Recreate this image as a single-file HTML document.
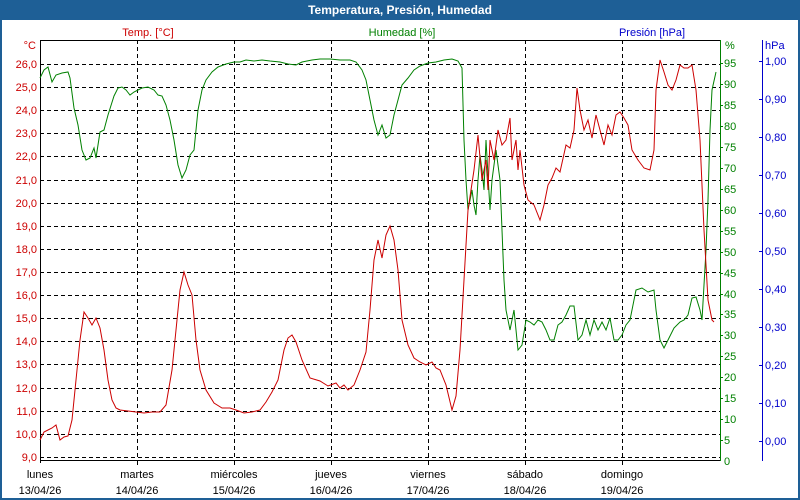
<!DOCTYPE html>
<html><head><meta charset="utf-8"><style>
html,body{margin:0;padding:0;background:#fff;}
svg{display:block;font-family:"Liberation Sans","DejaVu Sans",sans-serif;}
</style></head><body>
<svg width="800" height="500" viewBox="0 0 800 500" xmlns="http://www.w3.org/2000/svg">
<rect x="0" y="0" width="800" height="500" fill="#1e5f96"/>
<rect x="2" y="20" width="796" height="478" fill="#fff"/>
<text x="400" y="14" fill="#fff" font-size="12" font-weight="bold" text-anchor="middle">Temperatura, Presión, Humedad</text>
<text x="148" y="36" fill="#cc0000" font-size="11" text-anchor="middle">Temp. [°C]</text>
<text x="402" y="36" fill="#008000" font-size="11" text-anchor="middle">Humedad [%]</text>
<text x="652" y="36" fill="#0000cc" font-size="11" text-anchor="middle">Presión [hPa]</text>
<g stroke="#000" stroke-width="1" stroke-dasharray="4,3" fill="none">
<path d="M40 64.5H720M40 87.5H720M40 110.5H720M40 133.5H720M40 156.5H720M40 180.5H720M40 203.5H720M40 226.5H720M40 249.5H720M40 272.5H720M40 295.5H720M40 318.5H720M40 341.5H720M40 364.5H720M40 388.5H720M40 411.5H720M40 434.5H720M40 457.5H720"/>
<path d="M137.5 40V460M234.5 40V460M331.5 40V460M428.5 40V460M525.5 40V460M622.5 40V460"/>
</g>
<path d="M40.5 40V463M40 460.5H720M40 40.5H720" stroke="#000" fill="none"/>
<path d="M720.5 40V461" stroke="#008000" fill="none"/>
<path d="M762.5 40V461" stroke="#0000cc" fill="none"/>
<g stroke="#000"><path d="M137.5 460V465M234.5 460V465M331.5 460V465M428.5 460V465M525.5 460V465M622.5 460V465"/></g>
<g fill="#cc0000" font-size="11" text-anchor="end">
<text x="36" y="49">°C</text>
<text x="37" y="68">26,0</text><text x="37" y="91">25,0</text><text x="37" y="114">24,0</text><text x="37" y="137">23,0</text><text x="37" y="160">22,0</text><text x="37" y="184">21,0</text><text x="37" y="207">20,0</text><text x="37" y="230">19,0</text><text x="37" y="253">18,0</text><text x="37" y="276">17,0</text><text x="37" y="299">16,0</text><text x="37" y="322">15,0</text><text x="37" y="345">14,0</text><text x="37" y="368">13,0</text><text x="37" y="392">12,0</text><text x="37" y="415">11,0</text><text x="37" y="438">10,0</text><text x="37" y="461">9,0</text>
</g>
<g fill="#008000" font-size="11">
<text x="725" y="49">%</text>
<text x="724" y="67">95</text><text x="724" y="88">90</text><text x="724" y="109">85</text><text x="724" y="130">80</text><text x="724" y="151">75</text><text x="724" y="172">70</text><text x="724" y="193">65</text><text x="724" y="214">60</text><text x="724" y="235">55</text><text x="724" y="256">50</text><text x="724" y="277">45</text><text x="724" y="298">40</text><text x="724" y="318">35</text><text x="724" y="339">30</text><text x="724" y="360">25</text><text x="724" y="381">20</text><text x="724" y="402">15</text><text x="724" y="423">10</text><text x="724" y="444">5</text><text x="724" y="465">0</text>
</g>
<g stroke="#008000"><path d="M720 63.5h3M720 84.5h3M720 105.5h3M720 126.5h3M720 147.5h3M720 168.5h3M720 189.5h3M720 210.5h3M720 231.5h3M720 252.5h3M720 273.5h3M720 294.5h3M720 314.5h3M720 335.5h3M720 356.5h3M720 377.5h3M720 398.5h3M720 419.5h3M720 440.5h3"/></g>
<g fill="#0000cc" font-size="11">
<text x="765" y="49">hPa</text>
<text x="765" y="65">1,00</text><text x="765" y="103">0,90</text><text x="765" y="141">0,80</text><text x="765" y="179">0,70</text><text x="765" y="217">0,60</text><text x="765" y="255">0,50</text><text x="765" y="293">0,40</text><text x="765" y="331">0,30</text><text x="765" y="369">0,20</text><text x="765" y="407">0,10</text><text x="765" y="445">0,00</text>
</g>
<g stroke="#0000cc"><path d="M759 61.5h4M759 99.5h4M759 137.5h4M759 175.5h4M759 213.5h4M759 251.5h4M759 289.5h4M759 327.5h4M759 365.5h4M759 403.5h4M759 441.5h4"/></g>
<g fill="#000" font-size="11" text-anchor="middle">
<text x="40" y="478">lunes</text><text x="40" y="494">13/04/26</text>
<text x="137" y="478">martes</text><text x="137" y="494">14/04/26</text>
<text x="234" y="478">miércoles</text><text x="234" y="494">15/04/26</text>
<text x="331" y="478">jueves</text><text x="331" y="494">16/04/26</text>
<text x="428" y="478">viernes</text><text x="428" y="494">17/04/26</text>
<text x="525" y="478">sábado</text><text x="525" y="494">18/04/26</text>
<text x="622" y="478">domingo</text><text x="622" y="494">19/04/26</text>
</g>
<polyline fill="none" stroke="#008000" stroke-width="1" points="40,78 44,70 48,67 52,82 56,75 62,73 68,72 70,78 74,108 78,125 82,150 86,160 90,158 94,148 96,158 100,132 104,130 108,115 114,96 118,88 122,87 126,90 130,95 134,92 138,90 142,88 148,87 154,90 158,95 162,96 166,105 170,120 174,140 178,165 182,178 186,170 190,155 194,150 198,110 202,90 206,80 212,72 218,67 226,64 234,62 240,62 246,60 254,61 262,60 270,61 280,62 288,64 296,65 302,62 312,60 320,59 330,59 340,60 350,60 356,62 362,70 366,80 370,100 374,120 378,135 382,125 386,138 390,135 394,115 398,100 402,85 408,78 414,70 420,66 428,63 436,62 444,60 452,59 458,61 462,68 464,140 466,180 468,210 472,190 474,205 476,215 478,180 480,155 482,170 484,190 486,140 488,175 490,210 492,180 494,165 496,150 500,180 504,280 506,310 510,330 514,310 518,350 522,345 526,320 530,322 534,325 538,320 542,322 546,330 550,340 554,340 558,325 562,322 566,315 570,306 574,306 578,340 582,335 586,320 590,335 594,320 598,330 602,322 606,330 610,318 614,340 618,340 622,335 626,325 630,320 636,290 642,288 648,292 654,290 656,310 660,340 664,348 668,340 674,328 680,322 684,320 688,315 692,298 696,297 700,310 702,320 706,250 708,200 710,130 712,90 716,72"/>
<polyline fill="none" stroke="#cc0000" stroke-width="1" points="40,440 44,432 48,430 52,428 56,425 60,440 64,437 68,436 72,420 76,380 80,340 84,312 88,318 92,325 96,318 100,328 104,350 108,380 112,400 116,408 120,410 128,411 136,412 144,413 152,412 160,412 166,405 172,370 176,330 180,290 184,272 188,285 192,295 196,340 200,370 206,390 214,403 222,408 230,408 236,410 244,413 252,412 260,410 266,402 272,392 278,380 284,350 288,338 292,335 296,342 302,360 310,378 320,381 328,386 336,383 340,388 344,385 348,390 354,385 360,370 366,352 370,310 374,260 378,240 382,258 386,235 390,226 394,240 398,270 402,320 408,345 414,358 420,362 426,365 432,362 436,368 440,370 446,385 452,410 456,396 460,350 464,280 468,210 474,170 478,135 482,180 486,160 488,190 490,140 494,160 498,130 502,145 506,140 510,118 512,160 516,140 518,170 520,150 524,185 528,200 534,205 540,220 544,205 548,185 552,178 556,168 560,172 566,145 570,148 574,130 577,88 580,110 584,130 588,120 592,138 596,115 600,130 604,145 608,125 612,135 616,115 620,112 624,118 628,125 632,150 638,160 644,168 650,170 654,150 656,90 660,60 664,72 668,85 672,90 676,80 680,65 684,68 688,68 692,65 696,90 700,140 704,230 708,300 712,320 714,322"/>
</svg>
</body></html>
